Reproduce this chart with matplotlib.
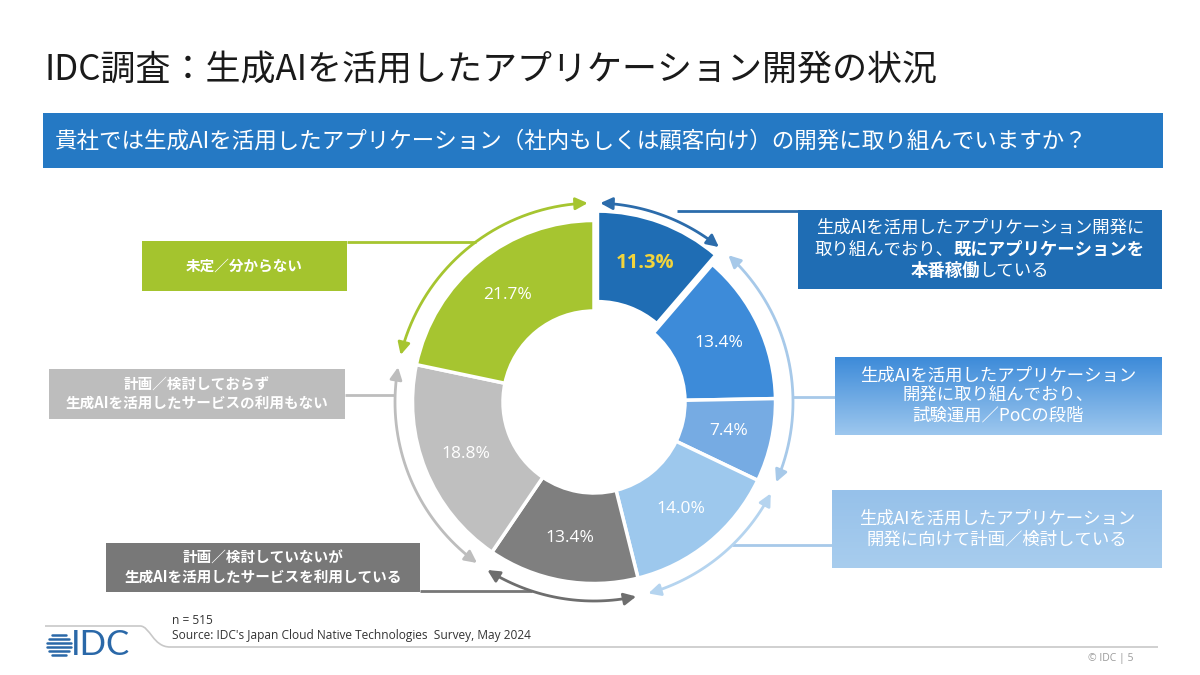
import numpy as np
import matplotlib
matplotlib.use("Agg")
import matplotlib.pyplot as plt
from matplotlib.patches import Rectangle, FancyArrowPatch, PathPatch
from matplotlib.path import Path

plt.rcParams['font.family'] = ['Noto Sans CJK JP', 'DejaVu Sans']

# ---------------- data ----------------
title = "IDC調査：生成AIを活用したアプリケーション開発の状況"
question = "貴社では生成AIを活用したアプリケーション（社内もしくは顧客向け）の開発に取り組んでいますか？"
values = [11.3, 13.4, 7.4, 14.0, 13.4, 18.8, 21.7]
segment_group = [0, 1, 1, 2, 3, 4, 5]
group_labels = [
    [[("生成AIを活用したアプリケーション開発に", False)],
     [("取り組んでおり、", False), ("既にアプリケーションを", True)],
     [("本番稼働", True), ("している", False)]],
    [[("生成AIを活用したアプリケーション", False)],
     [("開発に取り組んでおり、", False)],
     [("試験運用／PoCの段階", False)]],
    [[("生成AIを活用したアプリケーション", False)],
     [("開発に向けて計画／検討している", False)]],
    [[("計画／検討していないが", True)],
     [("生成AIを活用したサービスを利用している", True)]],
    [[("計画／検討しておらず", True)],
     [("生成AIを活用したサービスの利用もない", True)]],
    [[("未定／分からない", True)]],
]
sample_note = "n = 515"
source_note = "Source: IDC's Japan Cloud Native Technologies  Survey, May 2024"
footer_right = "© IDC | 5"
logo_text = "IDC"

# ---------------- styles / layout ----------------
W, H = 1200, 675
seg_colors = ['#1f6db4', '#3d8bd9', '#76abe3', '#9dc8ed', '#7f7f7f', '#bfbfbf', '#a6c530']
arc_colors = ['#2c6cab', '#a7c9e9', '#b5d4ef', '#6e6e6e', '#bdbdbd', '#a6c530']
box_rects = [(798, 210, 1162, 289), (835, 357, 1162, 435), (832, 490, 1162, 568),
             (106, 543, 420, 592), (49, 369, 345, 419), (142, 241, 347, 291)]
box_fill = [('#1f6db4', '#1f6db4'), ('#3d8bd9', '#9dc7ee'), ('#96c1ea', '#a8cdee'),
            ('#787878', '#787878'), ('#bdbdbd', '#bdbdbd'), ('#a4c42e', '#a4c42e')]
box_fs = [12.5, 12.5, 12.5, 10.5, 10.5, 10.5]
box_gap = [21.5, 20, 21, 19, 18, 0]
line_colors = ['#2c6cab', '#a7c9e9', '#a7c9e9', '#777777', '#bdbdbd', '#a6c530']
# connector: (y, x at box, side, optional start x)
connectors = [(211, 798, 1, 677), (397, 835, 1, None), (545, 832, 1, None),
              (591, 420, -1, None), (395, 345, -1, None), (242, 347, -1, None)]

cx, cy = 594, 402
R, Rin = 181.5, 91
Ra = 199
explode = [10, 0, 0, 0, 0, 0, 0]


def Y(y):
    return H - y


fig = plt.figure(figsize=(12, 6.75), dpi=100)
ax = fig.add_axes([0, 0, 1, 1])
fig.patch.set_facecolor('white')

# ---- donut ----
wedges, _, autotexts = ax.pie(
    values, startangle=90, counterclock=False, radius=R, center=(cx, Y(cy)),
    colors=seg_colors, explode=explode, autopct='%.1f%%', pctdistance=0.76,
    wedgeprops=dict(width=R - Rin, edgecolor='white', linewidth=2.5),
    textprops=dict(color='white', fontsize=12.5, family=['Open Sans', 'DejaVu Sans']))
autotexts[0].set_color('#f2d43c')
autotexts[0].set_fontweight('bold')
autotexts[0].set_fontsize(14.5)

# ---- arcs with arrows per group ----
cum = np.concatenate([[0], np.cumsum(values)])
ngroups = len(group_labels)
gap = 1.8
for g in range(ngroups):
    idx = [i for i, s in enumerate(segment_group) if s == g]
    a0 = 90 - 360 * cum[idx[0]] / 100 - gap
    a1 = 90 - 360 * cum[idx[-1] + 1] / 100 + gap
    th = np.radians(np.linspace(a0, a1, 40))
    pts = np.column_stack([cx + Ra * np.cos(th), Y(cy) + Ra * np.sin(th)])
    arr = FancyArrowPatch(path=Path(pts), arrowstyle='<|-|>,head_length=0.6,head_width=0.3',
                          mutation_scale=12, color=arc_colors[g], lw=2, zorder=3)
    ax.add_patch(arr)

# ---- connectors ----
for g, (yy, xb, side, xs) in enumerate(connectors):
    xa = xs if xs is not None else cx + side * np.sqrt(Ra ** 2 - (yy - cy) ** 2)
    ax.plot([xa, xb], [Y(yy), Y(yy)], color=line_colors[g], lw=2, zorder=2,
            solid_capstyle='butt')

# ---- boxes ----
renderer = fig.canvas.get_renderer()


def rich_line(xc, y, parts, fs, color):
    texts = []
    for s, bold in parts:
        t = ax.text(0, Y(y), s, fontsize=fs, fontweight='bold' if bold else 'normal',
                    color=color, va='center', ha='left', zorder=6)
        texts.append(t)
    widths = [t.get_window_extent(renderer).width for t in texts]
    x = xc - sum(widths) / 2
    for t, w in zip(texts, widths):
        t.set_x(x)
        x += w


for g in range(ngroups):
    x0, y0, x1, y1 = box_rects[g]
    ctop, cbot = box_fill[g]
    if ctop == cbot:
        ax.add_patch(Rectangle((x0, Y(y1)), x1 - x0, y1 - y0, facecolor=ctop,
                               edgecolor='none', zorder=4))
    else:
        c1 = np.array(matplotlib.colors.to_rgb(ctop))
        c2 = np.array(matplotlib.colors.to_rgb(cbot))
        tt = np.linspace(0, 1, 100)[:, None]
        grad = (c1 * (1 - tt) + c2 * tt)[:, None, :]
        ax.imshow(grad, extent=[x0, x1, Y(y1), Y(y0)], aspect='auto', zorder=4,
                  interpolation='bicubic')
    lines = group_labels[g]
    n = len(lines)
    ymid = (y0 + y1) / 2
    for k, parts in enumerate(lines):
        yl = ymid + (k - (n - 1) / 2) * box_gap[g]
        rich_line((x0 + x1) / 2, yl, parts, box_fs[g], 'white')

# ---- title and banner ----
ax.text(45, Y(70), title, fontsize=25.2, color='#1a1a1a', va='center', ha='left')
ax.add_patch(Rectangle((43, Y(168)), 1120, 55, facecolor='#2579c4', edgecolor='none', zorder=1))
ax.text(55, Y(141), question, fontsize=16.2, color='white', va='center', ha='left', zorder=2)

# ---- footer ----
fverts = [(45, Y(626)), (140, Y(626)), (150, Y(626)), (153, Y(647)), (170, Y(647)), (1158, Y(647))]
fcodes = [Path.MOVETO, Path.LINETO, Path.CURVE4, Path.CURVE4, Path.CURVE4, Path.LINETO]
ax.add_patch(PathPatch(Path(fverts, fcodes), facecolor='none', edgecolor='#c8c8c8', lw=1.2))
ax.text(172, Y(621), sample_note, fontsize=8.6, color='#333333', va='center', ha='left',
        family=['Open Sans', 'DejaVu Sans'])
ax.text(172, Y(636), source_note, fontsize=8.6, color='#333333', va='center', ha='left',
        family=['Open Sans', 'DejaVu Sans'])
ax.text(1133, Y(659), footer_right, fontsize=7.5, color='#9a9a9a', va='center', ha='right',
        family=['Open Sans', 'DejaVu Sans'])

# logo
ax.text(71, Y(645), logo_text, fontsize=25, color='#2a68a8', va='center', ha='left',
        family=['Lato', 'DejaVu Sans'])
lx, ly, lr = 59, 645, 12
for dy in [-10, -6, -2, 2, 6, 10]:
    hw = np.sqrt(max(lr ** 2 - dy ** 2, 0))
    ax.plot([lx - hw, lx + hw], [Y(ly + dy), Y(ly + dy)], color='#2a68a8', lw=1.8,
            solid_capstyle='round')

ax.set_xlim(0, W)
ax.set_ylim(0, H)
ax.set_aspect('auto')
ax.axis('off')
fig.savefig('out.png', dpi=100, facecolor='white')
